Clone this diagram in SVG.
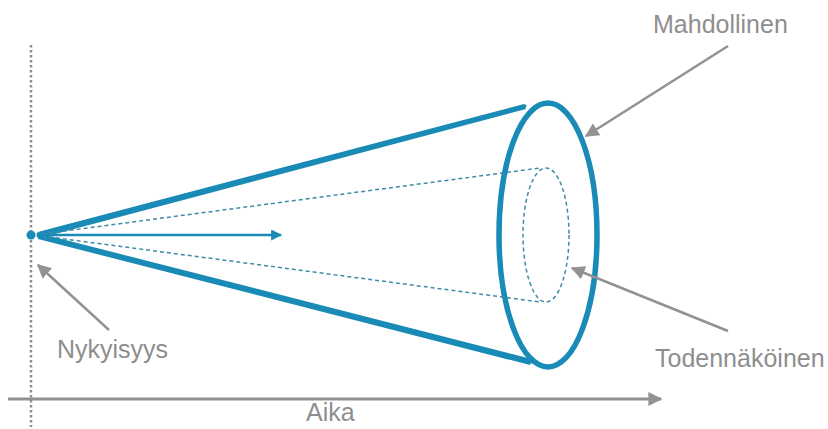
<svg xmlns="http://www.w3.org/2000/svg" width="828" height="429" viewBox="0 0 828 429">
<style>
.lbl{font-family:"Liberation Sans",Arial,sans-serif;font-size:25px;fill:#8e8e8e}
.cone{stroke:#1a8ab6;fill:none;stroke-linecap:round}
.dash{stroke:#3d8ca9;fill:none;stroke-width:1.5;stroke-dasharray:4 3}
.gray{stroke:#929292;fill:none;stroke-width:2.5}
</style>
<defs>
<marker id="gaL" viewBox="0 0 10 10" refX="9" refY="5" markerWidth="14" markerHeight="14" markerUnits="userSpaceOnUse" orient="auto">
<path d="M0,0 L10,5 L0,10 Z" fill="#929292"/>
</marker>
<marker id="ba" viewBox="0 0 10 10" refX="9" refY="5" markerWidth="12" markerHeight="11" markerUnits="userSpaceOnUse" orient="auto">
<path d="M0,0 L10,5 L0,10 Z" fill="#1a8ab6"/>
</marker>
</defs>
<rect width="828" height="429" fill="#ffffff"/>
<g id="present-line">
<line x1="31" y1="45" x2="31" y2="427" stroke="#8e8e8e" stroke-width="2.5" stroke-dasharray="2.5 2.5"/>
</g>
<g id="cone">
<path d="M38,232 L524,104 L526,109 L40,238 Z" fill="#1a8ab6"/>
<line class="cone" x1="38" y1="234" x2="525" y2="106" stroke-width="3"/>
<path d="M38,233 L532,359 L530,365 L38,239 Z" fill="#1a8ab6"/>
<line class="cone" x1="38" y1="236" x2="532" y2="362" stroke-width="3"/>
<ellipse class="cone" cx="548" cy="235" rx="49" ry="132" stroke-width="5.5"/>
</g>
<g id="probable">
<line class="dash" x1="42" y1="234" x2="540" y2="168"/>
<line class="dash" x1="42" y1="236" x2="540" y2="302"/>
<ellipse class="dash" cx="546" cy="235" rx="23" ry="67" stroke-dasharray="2.5 2.5"/>
</g>
<g id="present-dot">
<circle cx="31" cy="235" r="4.5" fill="#1a8ab6"/>
</g>
<g id="connectors">
<line x1="40" y1="235" x2="281" y2="235" stroke="#1a8ab6" stroke-width="2.5" marker-end="url(#ba)"/>
<line class="gray" x1="728" y1="46" x2="586" y2="136" marker-end="url(#gaL)"/>
<line class="gray" x1="728" y1="331" x2="572" y2="268" marker-end="url(#gaL)"/>
<line class="gray" x1="109" y1="330" x2="38" y2="265" marker-end="url(#gaL)"/>
<line x1="8" y1="399" x2="661" y2="399" stroke="#929292" stroke-width="3" marker-end="url(#gaL)"/>
</g>
<g id="label-mahdollinen"><text class="lbl" x="653" y="33">Mahdollinen</text></g>
<g id="label-todennakoinen"><text class="lbl" x="655" y="367">Todennäköinen</text></g>
<g id="label-nykyisyys"><text class="lbl" x="57" y="358">Nykyisyys</text></g>
<g id="label-aika"><text class="lbl" x="306" y="421">Aika</text></g>
</svg>
